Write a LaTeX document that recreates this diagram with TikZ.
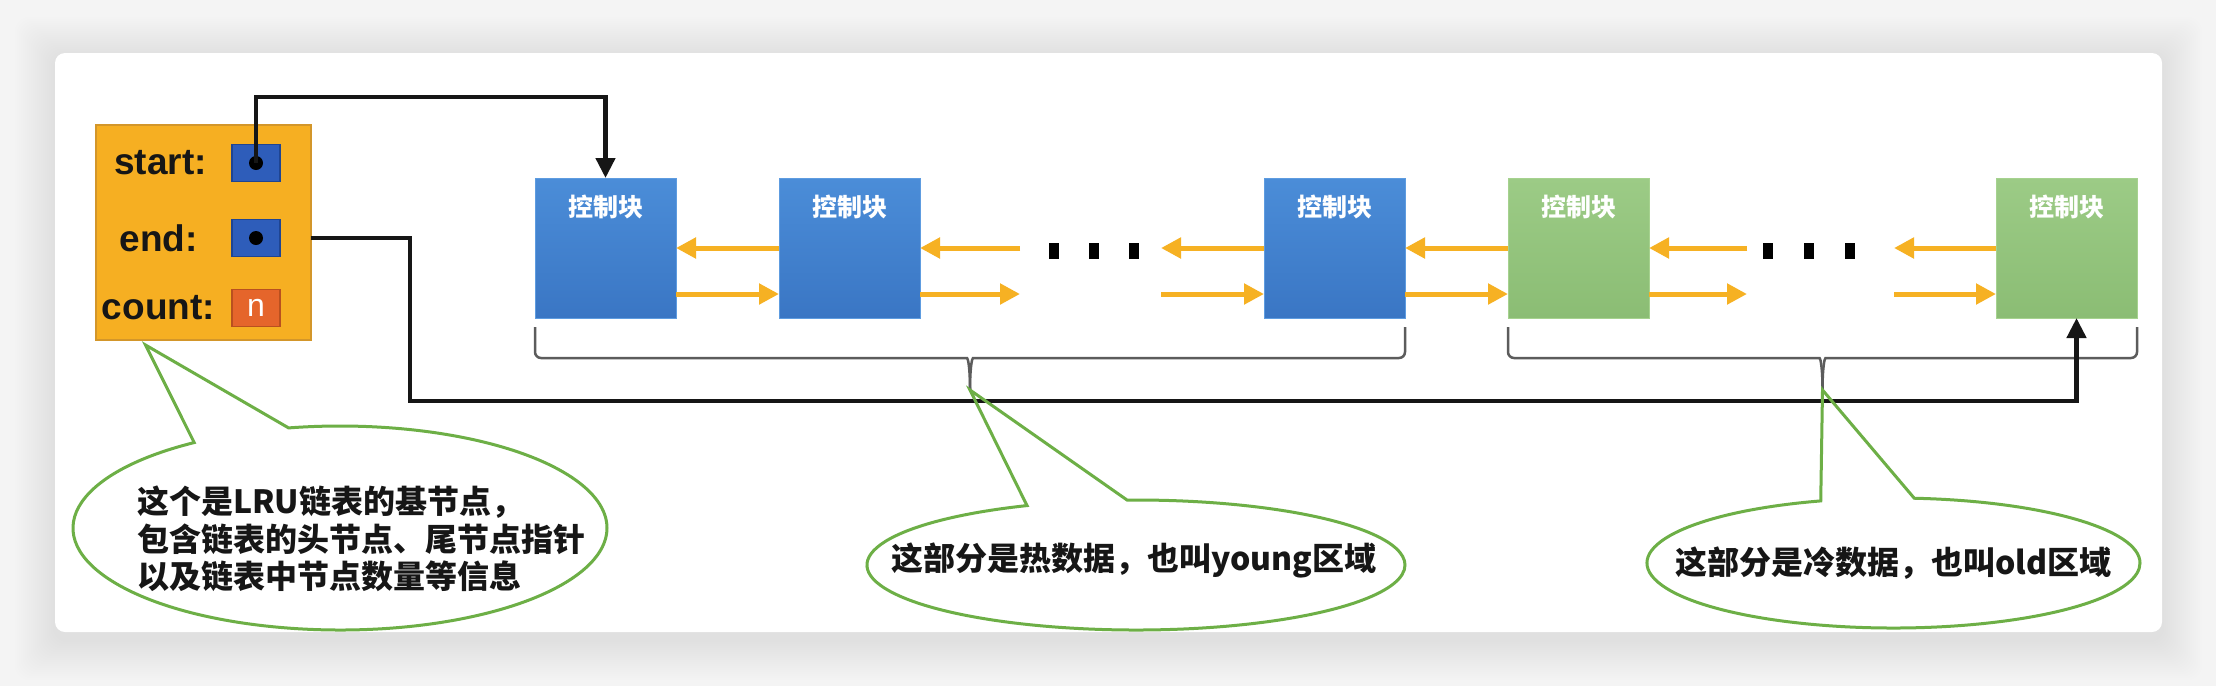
\documentclass[tikz,border=0pt]{standalone}
\usepackage{fontspec}
\setmainfont{Liberation Sans}
\newfontfamily\cjk{Noto Sans CJK SC}
\usetikzlibrary{positioning,calc,arrows.meta,shapes.callouts}
\definecolor{lrubg}{HTML}{F4F4F4}
\definecolor{lruink}{HTML}{161616}
\definecolor{lruamber}{HTML}{F6AF22}
\definecolor{lruamberdk}{HTML}{D3962A}
\definecolor{lruptr}{HTML}{2E5DBA}
\definecolor{lruptrdk}{HTML}{1F4592}
\definecolor{lrucount}{HTML}{E5652B}
\definecolor{lrucountdk}{HTML}{B9501F}
\definecolor{lruhottop}{HTML}{4B8DD8}
\definecolor{lruhotbot}{HTML}{3A76C4}
\definecolor{lruhotedge}{HTML}{5E9CE0}
\definecolor{lrucoldtop}{HTML}{9CCB86}
\definecolor{lrucoldbot}{HTML}{8BBD74}
\definecolor{lrucoldedge}{HTML}{A6D28F}
\definecolor{lruflow}{HTML}{F6B123}
\definecolor{lrunote}{HTML}{6DAF46}
\definecolor{lrubrace}{HTML}{5C5C5C}

\begin{document}
\begin{tikzpicture}[x=1pt, y=-1pt,
  basebox/.style={draw=lruamberdk, line width=2pt, fill=lruamber, minimum width=215pt, minimum height=215pt, outer sep=0pt},
  slot/.style={draw=lruptrdk, line width=1.5pt, fill=lruptr, minimum width=48pt, minimum height=37pt, inner sep=0pt, outer sep=0pt},
  cnt/.style={slot, draw=lrucountdk, fill=lrucount, text=white, font=\fontsize{32}{32}\selectfont},
  fld/.style={font=\fontsize{37}{37}\selectfont\bfseries, text=lruink, inner sep=0pt},
  knob/.style={circle, fill=black, minimum size=14pt, inner sep=0pt},
  blkcap/.style={anchor=center, yshift=-29pt, text=white, font=\cjk\fontsize{25}{25}\selectfont\bfseries},
  blk/.style={minimum width=141pt, minimum height=140pt, inner sep=0pt, outer sep=0pt, line width=1pt, label={[blkcap]north:控制块}},
  hot/.style={blk, draw=lruhotedge, top color=lruhottop, bottom color=lruhotbot},
  cold/.style={blk, draw=lrucoldedge, top color=lrucoldtop, bottom color=lrucoldbot},
  flow/.style={draw=lruflow, line width=5pt, -{Triangle[length=20pt,width=20pt]}},
  ptr/.style={draw=lruink, line width=4.5pt, -{Triangle[length=20pt,width=19pt]}},
  brk/.style={draw=lrubrace, line width=2.5pt, rounded corners=6pt},
  blip/.style={fill=black, minimum width=10pt, minimum height=16pt, inner sep=0pt},
  note/.style={ellipse callout, draw=lrunote, line width=3pt, inner sep=0pt, callout pointer arc=22},
  say/.style={font=\cjk\fontsize{32}{37.5}\selectfont\bfseries, text=lruink, align=left, inner sep=0pt}]
\useasboundingbox (0,0) rectangle (2216,686);
% card
\fill[lrubg] (0,0) rectangle (2216,686);
\foreach \r in {2,4,...,40}
  \fill[black, opacity=0.0045, rounded corners=14pt] (55-\r,57-\r) rectangle (2162+\r,640+\r);
\fill[white, rounded corners=10pt] (55,53) rectangle (2162,632);
% base node
\node[basebox] (base) at (203.5,232.5) {};
\node[slot] (startp) at (256,163) {};
\node[slot] (endp) at (256,238) {};
\node[cnt] (countp) at (256,308) {n};
\node[fld] (startl) at ([xshift=-43pt]base.center |- startp) {start:};
\node[fld] (endl) at ([xshift=-45pt]base.center |- endp) {end:};
\node[fld] (countl) at ([xshift=-45pt]base.center |- countp) {count:};
\node[knob] (startdot) at (startp) {};
\node[knob] (enddot) at (endp) {};
% list
\node[hot] (n1) at (605.5,248) {};
\node[hot, right=103pt of n1] (n2) {};
\node[hot, right=344pt of n2] (n3) {};
\node[cold, right=103pt of n3] (n4) {};
\node[cold, right=347pt of n4] (n5) {};
\foreach \i/\x in {1/1054,2/1094,3/1134} \node[blip] (dotA\i) at (\x,251) {};
\foreach \i/\x in {1/1768,2/1809,3/1850} \node[blip] (dotB\i) at (\x,251) {};
\coordinate (gapA) at ([xshift=100pt]n2.east);
\coordinate (gapB) at ([xshift=-103pt]n3.west);
\coordinate (gapC) at ([xshift=98pt]n4.east);
\coordinate (gapD) at ([xshift=-102pt]n5.west);
% prev / next
\draw[flow] (n2.west) -- (n1.east);
\draw[flow] ([yshift=-46pt]n1.east) -- ([yshift=-46pt]n2.west);
\draw[flow] (gapA) -- (n2.east);
\draw[flow] ([yshift=-46pt]n2.east) -- ([yshift=-46pt]gapA);
\draw[flow] (n3.west) -- (gapB);
\draw[flow] ([yshift=-46pt]gapB) -- ([yshift=-46pt]n3.west);
\draw[flow] (n4.west) -- (n3.east);
\draw[flow] ([yshift=-46pt]n3.east) -- ([yshift=-46pt]n4.west);
\draw[flow] (gapC) -- (n4.east);
\draw[flow] ([yshift=-46pt]n4.east) -- ([yshift=-46pt]gapC);
\draw[flow] (n5.west) -- (gapD);
\draw[flow] ([yshift=-46pt]gapD) -- ([yshift=-46pt]n5.west);
% brackets
\coordinate (hotL) at ([yshift=-9pt]n1.south west);
\coordinate (hotR) at ([yshift=-9pt]n3.south east);
\coordinate (hotM) at ($(hotL)!.5!(hotR)+(0,63)$);
\coordinate (coldL) at ([yshift=-9pt]n4.south west);
\coordinate (coldR) at ([yshift=-9pt]n5.south east);
\coordinate (coldM) at ($(coldL)!.5!(coldR)+(0,63)$);
\draw[brk] (hotL) |- ($(hotM)+(-9,-32)$) .. controls ($(hotM)+(-2,-32)$) and ($(hotM)+(0,-22)$) .. (hotM);
\draw[brk] (hotR) |- ($(hotM)+(9,-32)$) .. controls ($(hotM)+(2,-32)$) and ($(hotM)+(0,-22)$) .. (hotM);
\draw[brk] (coldL) |- ($(coldM)+(-9,-32)$) .. controls ($(coldM)+(-2,-32)$) and ($(coldM)+(0,-22)$) .. (coldM);
\draw[brk] (coldR) |- ($(coldM)+(9,-32)$) .. controls ($(coldM)+(2,-32)$) and ($(coldM)+(0,-22)$) .. (coldM);
% pointers
\coordinate (rail) at (0,97);
\coordinate (bus) at (410,401);
\draw[ptr] (startdot.center) |- (n1.north |- rail) -- (n1.north);
\draw[ptr] (base.east |- endp) -| (bus) -| ([xshift=10pt]n5.south);
% notes
\coordinate (baseTip) at ([xshift=-58pt,yshift=-5pt]base.south);
\node[note, minimum width=534pt, minimum height=204pt, callout absolute pointer=(baseTip)] (basenote) at (340,528) {};
\node[note, minimum width=538pt, minimum height=130pt, callout absolute pointer=(hotM)] (hotnote) at (1136,565) {};
\node[note, minimum width=493pt, minimum height=130pt, callout absolute pointer=(coldM)] (coldnote) at (1893.5,563) {};
\node[say] (basetxt) at ([xshift=21pt,yshift=-11pt]basenote.center) {这个是LRU链表的基节点，\\包含链表的头节点、尾节点指针\\以及链表中节点数量等信息};
\node[say] (hottxt) at ([xshift=-2pt,yshift=5pt]hotnote.center) {这部分是热数据，也叫young区域};
\node[say] (coldtxt) at (coldnote.center) {这部分是冷数据，也叫old区域};
\end{tikzpicture}
\end{document}
